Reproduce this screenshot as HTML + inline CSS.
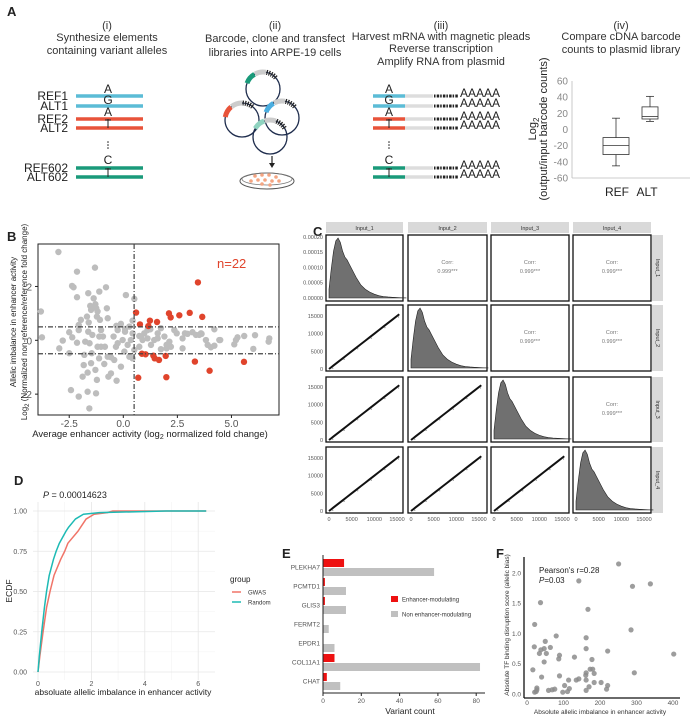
<!DOCTYPE html>
<html><head><meta charset="utf-8"><style>
html,body{margin:0;padding:0;background:#fff;}
svg{display:block;font-family:"Liberation Sans",Arial,sans-serif;}
</style></head><body>
<svg id="fig" width="691" height="716" viewBox="0 0 691 716" xmlns="http://www.w3.org/2000/svg">
<g fill="#222">
<text x="7" y="16" font-size="13" font-weight="bold">A</text>
<g font-size="11" text-anchor="middle" fill="#333">
<text x="107" y="29">(i)</text><text x="107" y="41">Synthesize elements</text><text x="107" y="54">containing variant alleles</text>
<text x="275" y="29">(ii)</text><text x="275" y="42">Barcode, clone and transfect</text><text x="275" y="56">libraries into ARPE-19 cells</text>
<text x="441" y="29">(iii)</text><text x="441" y="40">Harvest mRNA with magnetic pleads</text><text x="441" y="52">Reverse transcription</text><text x="441" y="65">Amplify RNA from plasmid</text>
<text x="621" y="29">(iv)</text><text x="621" y="40">Compare cDNA barcode</text><text x="621" y="53">counts to plasmid library</text>
</g>
<g id="alleles"></g>
<g id="plasmids"></g>
<g id="reads"></g>
<g id="boxplot"></g>
</g>
<g id="panelB"></g>
<g id="panelC"></g>
<g id="panelD"></g>
<g id="panelE"></g>
<g id="panelF"></g>
</svg>
<script>
const boxCats = ["REF","ALT"];
const boxMin = [-45, 10];
const boxQ1 = [-31, 13];
const boxMed = [-20, 16];
const boxQ3 = [-10, 28];
const boxMax = [14, 41];
const boxTicks = [60,40,20,0,-20,-40,-60];

const bGreyX = [-3.00,-3.81,-3.76,-2.80,-2.96,-2.50,-2.50,-2.14,-2.06,-2.14,-2.37,-2.30,-2.14,-1.31,-1.62,-1.49,-1.68,-1.60,-1.62,-1.56,-1.46,-1.49,-1.65,-1.83,-1.88,-2.06,-2.42,-1.65,-1.57,-1.26,-1.22,-1.29,-1.12,-1.19,-1.11,-1.03,-1.08,-1.19,-1.29,-1.37,-1.11,-0.80,-0.76,-0.72,-0.94,-0.85,-0.88,-0.69,-0.57,-0.31,-0.57,-0.34,-0.45,-0.26,-0.32,-0.11,0.08,0.28,0.12,0.51,0.43,0.35,0.20,0.05,0.28,0.43,-0.11,-0.42,-0.26,-0.03,0.08,0.51,0.43,-1.53,-1.34,-1.25,-1.22,-1.43,-1.76,-1.80,-1.96,-2.06,-2.36,-1.03,-0.72,0.74,0.82,0.97,1.12,1.28,1.43,1.59,1.74,1.90,2.00,2.13,2.36,2.47,2.74,2.85,2.97,3.20,3.36,3.59,3.82,3.90,4.05,4.21,4.44,4.48,5.13,5.28,5.21,5.59,6.01,6.09,6.75,6.72,1.25,1.59,1.74,0.74,0.89,1.12,2.00,2.20,3.51,2.74,4.21,3.62];
const bGreyY = [3.28,1.07,0.11,-0.01,-0.30,0.30,-0.48,1.60,0.57,-0.09,2.02,1.97,2.55,2.70,1.75,1.13,0.88,0.66,0.32,-0.11,-0.48,-0.85,-1.20,-0.92,-1.35,-2.09,-1.85,-1.91,-2.53,-1.97,-1.47,-1.10,-0.67,-0.24,0.14,0.38,0.76,1.07,1.34,1.56,1.81,1.97,1.19,0.82,0.14,-0.24,-0.88,-1.35,-1.23,-1.50,-0.63,-0.24,0.14,0.38,0.54,0.61,0.42,0.51,1.68,1.54,0.73,0.01,-0.17,-0.42,-0.61,-0.67,-0.98,-0.73,-0.11,0.01,0.32,-0.36,0.26,1.28,1.25,1.19,0.88,0.20,-0.05,-0.54,0.76,0.38,0.11,-0.24,-0.61,-0.24,0.14,0.26,0.07,-0.17,0.01,0.26,0.45,0.14,-0.17,-0.05,0.38,0.26,0.07,0.26,0.24,0.30,0.20,0.26,0.01,-0.17,-0.26,-0.20,0.01,0.01,-0.15,0.11,0.01,0.16,-0.32,0.19,0.07,-0.05,0.41,0.07,-0.33,0.16,0.01,0.38,-0.30,-0.24,0.20,-0.30,0.41,0.24];
const bRedX = [0.59,0.77,1.16,1.23,1.56,2.11,2.19,2.59,3.07,3.65,3.45,1.03,1.39,1.45,1.65,1.96,0.69,1.99,3.31,3.99,5.58,0.86];
const bRedY = [1.03,0.59,0.53,0.73,0.68,1.00,0.85,0.93,1.02,0.87,2.15,-0.52,-0.57,-0.67,-0.73,-0.58,-1.39,-1.37,-0.79,-1.13,-0.80,-0.50];
const bXTicks = [-2.5,0,2.5,5];
const bXTickLabels = ["-2.5","0.0","2.5","5.0"];
const bYTicks = [2,0,-2];

const cInputs = ["Input_1","Input_2","Input_3","Input_4"];
const cDensX = [0,500,1000,1500,2000,2500,3000,3500,4000,4500,5000,6000,7000,8000,9000,10000,11000,12000,13000,14000,15000,16000,17000];
const cDensY = [3,10,16,19.5,20.5,19,16,14,13,11.5,10,7,4.5,3,2,1.3,0.8,0.5,0.35,0.25,0.15,0.08,0.03];
const cScatter = [0,500,1000,2000,3000,4000,5000,6000,7000,8000,9000,10000,11000,12000,13000,14000,15000,15500];
const cCorr = ["0.999***","0.999***","0.999***","0.999***","0.999***","0.999***"];
const cDensTickLabels = ["0.00020","0.00015","0.00010","0.00005","0.00000"];
const cScatTicks = [15000,10000,5000,0];

const dLevels = [0,0.1,0.25,0.4,0.5,0.6,0.7,0.75,0.8,0.875,0.9,0.95,0.98,0.99,1.0,1.0];
const dGwasX = [0,0.07,0.19,0.32,0.45,0.6,0.85,1.0,1.12,1.5,1.6,1.8,2.1,2.6,2.8,6.3];
const dRandX = [0,0.05,0.14,0.24,0.32,0.42,0.58,0.68,0.8,1.05,1.15,1.4,1.7,2.3,4.8,6.3];
const dYTicks = [0,0.25,0.5,0.75,1.0];
const dXTicks = [0,2,4,6];

const eGenes = ["PLEKHA7","PCMTD1","GLIS3","FERMT2","EPDR1","COL11A1","CHAT"];
const eEnh = [11,1,1,0,0,6,2];
const eNon = [58,12,12,3,6,82,9];
const eTicks = [0,20,40,60,80];

const fX = [251,142,289,338,37,167,21,285,80,162,50,20,162,64,47,38,34,53,221,402,89,87,130,178,47,16,173,180,184,162,161,294,40,89,135,142,114,162,184,203,221,218,103,116,59,76,27,25,21,27,98,111,170,162,69];
const fY = [2.15,1.87,1.78,1.82,1.51,1.40,1.15,1.06,0.96,0.93,0.87,0.78,0.75,0.77,0.75,0.73,0.67,0.67,0.71,0.66,0.64,0.58,0.61,0.57,0.53,0.40,0.41,0.41,0.34,0.35,0.31,0.35,0.28,0.30,0.23,0.25,0.23,0.23,0.19,0.19,0.14,0.08,0.14,0.09,0.06,0.08,0.10,0.04,0.03,0.07,0.03,0.04,0.12,0.06,0.07];
const fXTicks = [0,100,200,300,400];
const fYTicks = [0,0.5,1.0,1.5,2.0];

const NS = "http://www.w3.org/2000/svg";
function mk(parent, tag, attrs, text){
  const e = document.createElementNS(NS, tag);
  for (const k in attrs) e.setAttribute(k, attrs[k]);
  if (text !== undefined) e.textContent = text;
  parent.appendChild(e);
  return e;
}
function arcPath(cx,cy,r,a1,a2){
  const t1=a1*Math.PI/180, t2=a2*Math.PI/180;
  return `M${cx+r*Math.cos(t1)},${cy+r*Math.sin(t1)} A${r},${r} 0 0 1 ${cx+r*Math.cos(t2)},${cy+r*Math.sin(t2)}`;
}

(function(){
  const g = document.getElementById('alleles');
  const rows = [["REF1",96,"#5bbcd6"],["ALT1",106,"#5bbcd6"],["REF2",119,"#e8533a"],["ALT2",128,"#e8533a"],["REF602",168,"#1a9a7a"],["ALT602",177,"#1a9a7a"]];
  rows.forEach(r=>{
    const l = mk(g,'line',{x1:76,x2:143,y1:r[1],y2:r[1],stroke:r[2],'stroke-width':3.5});
    
    
    const t = mk(g,'text',{x:68,y:r[1]+4,'font-size':12,'text-anchor':'end',fill:'#222'},r[0]);
    
    
  });
  [["A",93],["G",104],["A",116],["C",164]].forEach(a=>mk(g,'text',{x:108,y:a[1],'font-size':12,'text-anchor':'middle',fill:'#222'},a[0]));
  [[119,128],[168,177]].forEach(p=>{mk(g,'line',{x1:108,x2:108,y1:p[0],y2:p[1],stroke:'#222','stroke-width':1});mk(g,'line',{x1:105,x2:111,y1:p[0]+1,y2:p[0]+1,stroke:'#222','stroke-width':1});});
  [142,145,148].forEach(y=>mk(g,'circle',{cx:108,cy:y,r:0.8,fill:'#222'}));
})();

(function(){
  const g = document.getElementById('plasmids');
  const circ = [[263,89,'#1a9a7a',200],[242,120,'#e8533a',190],[282,118,'#4aaee0',200],[270,137,'#8fd3c0',210]];
  circ.forEach(c=>{
    const ci = mk(g,'circle',{cx:c[0],cy:c[1],r:17,fill:'none',stroke:'#1f2d4d','stroke-width':1.3});
    
    
    mk(g,'path',{d:arcPath(c[0],c[1],17,c[3],c[3]+40),stroke:c[2],'stroke-width':5,fill:'none'});
    mk(g,'path',{d:arcPath(c[0],c[1],17,c[3]+42,c[3]+80),stroke:'#ccc','stroke-width':5,fill:'none'});
    mk(g,'path',{d:arcPath(c[0],c[1],17,c[3]+82,c[3]+120),stroke:'#222','stroke-width':5,fill:'none','stroke-dasharray':'1.2 1.2'});
  });
  mk(g,'line',{x1:272,x2:272,y1:156,y2:166,stroke:'#222','stroke-width':1.2});
  mk(g,'path',{d:'M269,163 L272,168 L275,163 Z',fill:'#222'});
  mk(g,'ellipse',{cx:267,cy:181,rx:27,ry:8,fill:'none',stroke:'#555','stroke-width':1});
  mk(g,'ellipse',{cx:267,cy:179,rx:25,ry:6,fill:'none',stroke:'#777','stroke-width':0.7});
  [[255,176],[262,175],[269,175],[276,177],[258,180],[265,180],[272,181],[279,181],[262,184],[270,185],[251,181]].forEach(p=>mk(g,'circle',{cx:p[0],cy:p[1],r:1.8,fill:'#f4a582'}));
})();

(function(){
  const g = document.getElementById('reads');
  const rows = [[96,"#5bbcd6"],[106,"#5bbcd6"],[119,"#e8533a"],[128,"#e8533a"],[168,"#1a9a7a"],[177,"#1a9a7a"]];
  rows.forEach(r=>{
    mk(g,'line',{x1:373,x2:405,y1:r[0],y2:r[0],stroke:r[1],'stroke-width':3.5});
    mk(g,'line',{x1:405,x2:433,y1:r[0],y2:r[0],stroke:'#ddd','stroke-width':3.5});
    mk(g,'line',{x1:434,x2:458,y1:r[0],y2:r[0],stroke:'#222','stroke-width':3,'stroke-dasharray':'1.5 1.2 2.5 1'});
    const t = mk(g,'text',{x:460,y:r[0]+1,'font-size':12,fill:'#222'},"AAAAA");
    
    
  });
  [["A",93],["G",104],["A",116],["C",164]].forEach(a=>mk(g,'text',{x:389,y:a[1],'font-size':12,'text-anchor':'middle',fill:'#222'},a[0]));
  [[119,128],[168,177]].forEach(p=>{mk(g,'line',{x1:389,x2:389,y1:p[0],y2:p[1],stroke:'#222'});mk(g,'line',{x1:386,x2:392,y1:p[0]+1,y2:p[0]+1,stroke:'#222'});});
  [142,145,148].forEach(y=>mk(g,'circle',{cx:389,cy:y,r:0.8,fill:'#222'}));
})();

(function(){
  const g = document.getElementById('boxplot');
  const yS = v => 129.5 - v*0.808;
  const xC = [616, 650], w = [26, 16];
  mk(g,'line',{x1:572,x2:572,y1:81,y2:178,stroke:'#bbb','stroke-width':0.8});
  mk(g,'line',{x1:572,x2:690,y1:178,y2:178,stroke:'#bbb','stroke-width':0.8});
  boxTicks.forEach(t=>{
    const e = mk(g,'text',{x:568,y:yS(t)+3.5,'font-size':10,'text-anchor':'end',fill:'#888'},String(t));
    
    
  });
  boxCats.forEach((c,i)=>{
    const x=xC[i], h=w[i]/2;
    mk(g,'line',{x1:x,x2:x,y1:yS(boxMax[i]),y2:yS(boxQ3[i]),stroke:'#333','stroke-width':0.8});
    mk(g,'line',{x1:x,x2:x,y1:yS(boxQ1[i]),y2:yS(boxMin[i]),stroke:'#333','stroke-width':0.8});
    mk(g,'line',{x1:x-4,x2:x+4,y1:yS(boxMax[i]),y2:yS(boxMax[i]),stroke:'#333','stroke-width':0.8});
    mk(g,'line',{x1:x-4,x2:x+4,y1:yS(boxMin[i]),y2:yS(boxMin[i]),stroke:'#333','stroke-width':0.8});
    const b = mk(g,'rect',{x:x-h,y:yS(boxQ3[i]),width:w[i],height:yS(boxQ1[i])-yS(boxQ3[i]),fill:'#fff',stroke:'#333','stroke-width':0.8});
    
    
    mk(g,'line',{x1:x-h,x2:x+h,y1:yS(boxMed[i]),y2:yS(boxMed[i]),stroke:'#333','stroke-width':0.8});
  });
  mk(g,'text',{x:617,y:196,'font-size':12,'text-anchor':'middle',fill:'#222'},"REF");
  mk(g,'text',{x:647,y:196,'font-size':12,'text-anchor':'middle',fill:'#222'},"ALT");
  const t1 = mk(g,'text',{transform:'translate(536,129) rotate(-90)','font-size':11,'text-anchor':'middle',fill:'#222'});
  t1.innerHTML = 'Log<tspan font-size="8" dy="3">2</tspan>';
  
  
  mk(g,'text',{transform:'translate(547,129) rotate(-90)','font-size':11,'text-anchor':'middle',fill:'#222'},"(output/input barcode counts)");
})();

(function(){
  const g = document.getElementById('panelB');
  const X = v => 123.3 + 21.63*v, Y = v => 340.3 - 26.92*v;
  mk(g,'text',{x:7,y:241,'font-size':13,'font-weight':'bold',fill:'#222'},"B");
  mk(g,'rect',{x:38,y:244,width:241,height:171,fill:'#fff',stroke:'#222','stroke-width':1});
  bGreyX.forEach((v,i)=>{
    const c = mk(g,'circle',{cx:X(v),cy:Y(bGreyY[i]),r:3.2,fill:'#bdbdbd'});
    
    
  });
  bRedX.forEach((v,i)=>{
    const c = mk(g,'circle',{cx:X(v),cy:Y(bRedY[i]),r:3.2,fill:'#e0442c'});
    
    
  });
  mk(g,'line',{x1:X(0.5),x2:X(0.5),y1:244,y2:415,stroke:'#444','stroke-width':1.2,'stroke-dasharray':'5 2 1 2'});
  [0.5,-0.5].forEach(v=>mk(g,'line',{x1:38,x2:279,y1:Y(v),y2:Y(v),stroke:'#444','stroke-width':1.2,'stroke-dasharray':'5 2 1 2'}));
  bXTicks.forEach((t,i)=>{
    mk(g,'line',{x1:X(t),x2:X(t),y1:415,y2:418,stroke:'#222'});
    mk(g,'text',{x:X(t),y:427,'font-size':10,'text-anchor':'middle',fill:'#555'},bXTickLabels[i]);
  });
  bYTicks.forEach(t=>{
    mk(g,'line',{x1:35,x2:38,y1:Y(t),y2:Y(t),stroke:'#222'});
    mk(g,'text',{x:32,y:Y(t)+4,'font-size':10,'text-anchor':'end',fill:'#555'},String(t));
  });
  const n = mk(g,'text',{x:217,y:268,'font-size':13,fill:'#e0442c'},"n=22");
  
  
  const xt = mk(g,'text',{x:150,y:437,'font-size':9.5,'text-anchor':'middle',fill:'#222'});
  xt.innerHTML = 'Average enhancer activity (log<tspan font-size="7" dy="2">2</tspan><tspan dy="-2"> normalized fold change)</tspan>';
  
  
  mk(g,'text',{transform:'translate(16,322) rotate(-90)','font-size':8,'text-anchor':'middle',fill:'#222'},"Allelic imbalance in enhancer activity");
  const yt = mk(g,'text',{transform:'translate(27,322) rotate(-90)','font-size':8,'text-anchor':'middle',fill:'#222'});
  yt.innerHTML = 'Log<tspan font-size="6" dy="2">2</tspan><tspan dy="-2"> (Normalized non-reference/reference fold change)</tspan>';
  
  
})();

(function(){
  const g = document.getElementById('panelC');
  mk(g,'text',{x:313,y:236,'font-size':13,'font-weight':'bold',fill:'#222'},"C");
  const cols = [[326,403],[408,487],[491,569],[573,651]];
  const rows = [[235,301],[305,371],[377,442],[447,513]];
  cInputs.forEach((name,i)=>{
    const s = mk(g,'rect',{x:cols[i][0],y:222,width:cols[i][1]-cols[i][0],height:11,fill:'#d9d9d9'});
    
    
    mk(g,'text',{x:(cols[i][0]+cols[i][1])/2,y:230,'font-size':5.5,'text-anchor':'middle',fill:'#333'},name);
    mk(g,'rect',{x:652,y:rows[i][0],width:11,height:rows[i][1]-rows[i][0],fill:'#d9d9d9'});
    mk(g,'text',{transform:`translate(656,${(rows[i][0]+rows[i][1])/2}) rotate(90)`,'font-size':5.5,'text-anchor':'middle',fill:'#333'},name);
  });
  let k=0;
  for(let r=0;r<4;r++){
    for(let c=0;c<4;c++){
      const [x0,x1]=cols[c],[y0,y1]=rows[r];
      const X = v => x0+3 + v*(68/15000);
      const panel = mk(g,'rect',{x:x0,y:y0,width:x1-x0,height:y1-y0,fill:'#fff',stroke:'#111','stroke-width':1.3});
      
      
      if(r===c){
        const top = y0+3, bot = y1-3;
        const Yd = v => bot - v/20.5*(bot-top);
        let d = `M${X(cDensX[0])},${bot}`;
        cDensX.forEach((v,i)=>{ d += ` L${X(v)},${Yd(cDensY[i])}`; });
        d += ` L${X(cDensX[cDensX.length-1])},${bot} Z`;
        const p = mk(g,'path',{d:d,fill:'#707070',stroke:'#222','stroke-width':0.6});
        
        
      } else if(r>c){
        const Ys = v => y1-2 - v*(53/15000);
        const pts = cScatter.map(v=>`${X(v)},${Ys(v*1.0)}`).join(' ');
        const l = mk(g,'polyline',{points:pts,fill:'none',stroke:'#111','stroke-width':2});
        
        
        cScatter.forEach((v,i)=>{ if(i%3===1) mk(g,'circle',{cx:X(v)+1.5,cy:Ys(v)+1,r:0.6,fill:'#888'}); });
      } else {
        const cx=(x0+x1)/2;
        mk(g,'text',{x:cx,y:y0+29,'font-size':5.5,'text-anchor':'middle',fill:'#777'},"Corr:");
        const t = mk(g,'text',{x:cx,y:y0+38,'font-size':5.5,'text-anchor':'middle',fill:'#777'},cCorr[k++]);
        
        
      }
    }
  }
  cDensTickLabels.forEach((t,i)=>mk(g,'text',{x:323,y:237+i*15.2+2,'font-size':5.5,'text-anchor':'end',fill:'#555'},t));
  for(let r=1;r<4;r++){
    cScatTicks.forEach(t=>mk(g,'text',{x:323,y:rows[r][1]-2-t*(53/15000)+2,'font-size':5.5,'text-anchor':'end',fill:'#555'},String(t)));
  }
  cols.forEach(cl=>{
    [0,5000,10000,15000].forEach(t=>mk(g,'text',{x:cl[0]+3+t*(68/15000),y:521,'font-size':5.5,'text-anchor':'middle',fill:'#555'},String(t)));
  });
})();

(function(){
  const g = document.getElementById('panelD');
  const X = v => 38 + 26.7*v, Y = v => 672 - 161*v;
  mk(g,'text',{x:14,y:485,'font-size':13,'font-weight':'bold',fill:'#222'},"D");
  const pt = mk(g,'text',{x:43,y:498,'font-size':9,fill:'#222'});
  pt.innerHTML = '<tspan font-style="italic">P</tspan> = 0.00014623';
  
  
  [0.125,0.375,0.625,0.875].forEach(v=>mk(g,'line',{x1:33,x2:215,y1:Y(v),y2:Y(v),stroke:'#f3f3f3','stroke-width':0.6}));
  [1,3,5].forEach(v=>mk(g,'line',{x1:X(v),x2:X(v),y1:502,y2:680,stroke:'#f3f3f3','stroke-width':0.6}));
  dYTicks.forEach(t=>{
    mk(g,'line',{x1:33,x2:215,y1:Y(t),y2:Y(t),stroke:'#e6e6e6','stroke-width':0.8});
    mk(g,'text',{x:27,y:Y(t)+2.5,'font-size':7,'text-anchor':'end',fill:'#555'},t.toFixed(2));
  });
  dXTicks.forEach(t=>{
    mk(g,'line',{x1:X(t),x2:X(t),y1:502,y2:680,stroke:'#e6e6e6','stroke-width':0.8});
    mk(g,'text',{x:X(t),y:686,'font-size':7,'text-anchor':'middle',fill:'#555'},String(t));
  });
  const mkLine=(xs,col,name)=>{
    const pts = xs.map((v,i)=>`${X(v)},${Y(dLevels[i])}`).join(' ');
    const l = mk(g,'polyline',{points:pts,fill:'none',stroke:col,'stroke-width':1.5,'stroke-linejoin':'round'});
    
    
  };
  mkLine(dGwasX,'#f07468','ecdf-gwas');
  mkLine(dRandX,'#1dbab4','ecdf-random');
  mk(g,'text',{x:123,y:695,'font-size':8.5,'text-anchor':'middle',fill:'#222'},"absoluate allelic imbalance in enhancer activity");
  mk(g,'text',{transform:'translate(12,591) rotate(-90)','font-size':8.5,'text-anchor':'middle',fill:'#222'},"ECDF");
  const lg = mk(g,'g',{});
  
  
  mk(lg,'text',{x:230,y:582,'font-size':8,fill:'#222'},"group");
  mk(lg,'line',{x1:232,x2:241,y1:592,y2:592,stroke:'#f07468','stroke-width':1.5});
  mk(lg,'text',{x:248,y:594.5,'font-size':6,fill:'#333'},"GWAS");
  mk(lg,'line',{x1:232,x2:241,y1:602,y2:602,stroke:'#1dbab4','stroke-width':1.5});
  mk(lg,'text',{x:248,y:604.5,'font-size':6,fill:'#333'},"Random");
})();

(function(){
  const g = document.getElementById('panelE');
  const X = v => 323 + 1.915*v;
  mk(g,'text',{x:282,y:558,'font-size':13,'font-weight':'bold',fill:'#222'},"E");
  eGenes.forEach((gn,i)=>{
    const c = 567 + i*19;
    const r = mk(g,'rect',{x:323,y:c-8,width:X(eEnh[i])-323,height:8,fill:'#ee1111'});
    
    
    const b = mk(g,'rect',{x:323,y:c+1,width:X(eNon[i])-323,height:8,fill:'#c0c0c0'});
    
    
    mk(g,'text',{x:320,y:c+2.5,'font-size':6.5,'text-anchor':'end',fill:'#555'},gn);
  });
  mk(g,'line',{x1:323,x2:323,y1:555,y2:693,stroke:'#222','stroke-width':1});
  mk(g,'line',{x1:323,x2:485,y1:693,y2:693,stroke:'#222','stroke-width':1});
  eTicks.forEach(t=>{
    mk(g,'line',{x1:X(t),x2:X(t),y1:693,y2:696,stroke:'#222'});
    mk(g,'text',{x:X(t),y:703,'font-size':6.5,'text-anchor':'middle',fill:'#555'},String(t));
  });
  mk(g,'text',{x:410,y:714,'font-size':8.5,'text-anchor':'middle',fill:'#222'},"Variant count");
  const lg = mk(g,'g',{});
  
  
  mk(lg,'rect',{x:391,y:596,width:7,height:6,fill:'#ee1111'});
  mk(lg,'text',{x:402,y:601.5,'font-size':6,fill:'#333'},"Enhancer-modulating");
  mk(lg,'rect',{x:391,y:611,width:7,height:6,fill:'#c0c0c0'});
  mk(lg,'text',{x:402,y:616.5,'font-size':6,fill:'#333'},"Non enhancer-modulating");
})();

(function(){
  const g = document.getElementById('panelF');
  const X = v => 527 + 0.365*v, Y = v => 694 - 60.5*v;
  mk(g,'text',{x:496,y:558,'font-size':13,'font-weight':'bold',fill:'#222'},"F");
  fX.forEach((v,i)=>{
    const c = mk(g,'circle',{cx:X(v),cy:Y(fY[i]),r:2.6,fill:'#8c8c8c','fill-opacity':0.85});
    
    
  });
  mk(g,'line',{x1:524,x2:524,y1:557,y2:698,stroke:'#111','stroke-width':1.3});
  mk(g,'line',{x1:524,x2:680,y1:698,y2:698,stroke:'#111','stroke-width':1.3});
  fXTicks.forEach(t=>mk(g,'text',{x:X(t),y:705,'font-size':6.5,'text-anchor':'middle',fill:'#555'},String(t)));
  fYTicks.forEach(t=>mk(g,'text',{x:521,y:Y(t)+2.3,'font-size':6.5,'text-anchor':'end',fill:'#555'},t.toFixed(1)));
  const a = mk(g,'text',{x:539,y:573,'font-size':8,fill:'#222'},"Pearson's r=0.28");
  
  
  const p = mk(g,'text',{x:539,y:583,'font-size':8,fill:'#222'});
  p.innerHTML = '<tspan font-style="italic">P</tspan>=0.03';
  mk(g,'text',{x:600,y:714,'font-size':6.5,'text-anchor':'middle',fill:'#333'},"Absolute allelic imbalance in enhancer activity");
  mk(g,'text',{transform:'translate(509,625) rotate(-90)','font-size':6.5,'text-anchor':'middle',fill:'#333'},"Absolute TF binding disruption score (allelic bias)");
})();
</script>
</body></html>
